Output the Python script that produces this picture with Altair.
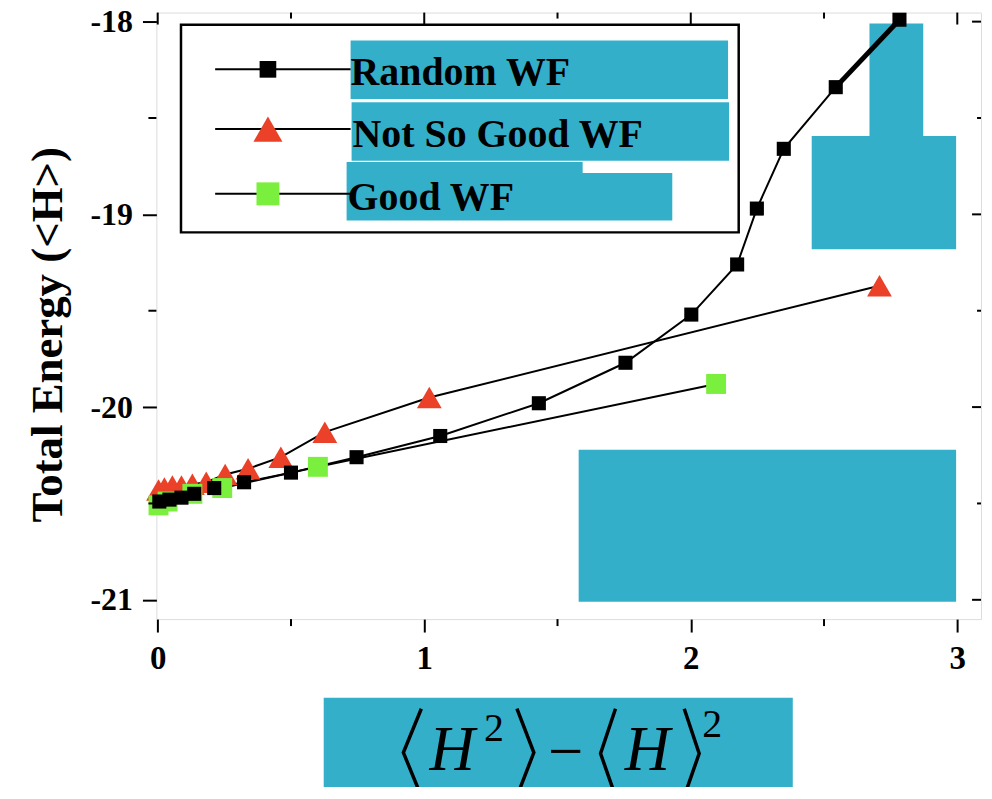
import altair as alt
import pandas as pd

# ---------------- data ----------------
series_names = ["Random WF", "Not So Good WF", "Good WF"]

random_x = [2.783, 2.544, 2.349, 2.248, 2.174, 2.002, 1.755, 1.430, 1.060, 0.746,
            0.500, 0.324, 0.212, 0.137, 0.089, 0.044, 0.006]
random_y = [-17.99, -18.34, -18.66, -18.97, -19.26, -19.52, -19.77, -19.98, -20.15, -20.26,
            -20.34, -20.39, -20.42, -20.45, -20.47, -20.48, -20.49]

notsogood_x = [2.708, 1.019, 0.627, 0.462, 0.339, 0.253, 0.182, 0.130, 0.089, 0.055, 0.025, 0.003]
notsogood_y = [-19.37, -19.95, -20.13, -20.26, -20.32, -20.35, -20.39, -20.40, -20.41, -20.41, -20.42, -20.43]

good_x = [2.095, 0.601, 0.242, 0.130, 0.037, 0.003]
good_y = [-19.88, -20.31, -20.42, -20.45, -20.49, -20.51]

x_ticks = [0, 1, 2, 3]
x_minor = [0.5, 1.5, 2.5]
y_ticks = [-18, -19, -20, -21]
y_minor = [-18.5, -19.5, -20.5]

y_title = "Total Energy (<H>)"

# ---------------- styling ----------------
W, H = 828, 609
TEAL = "#34AFCA"
RED = "#EB4128"
GREEN = "#7BEF3E"
SERIF = "Liberation Serif"

xs = alt.Scale(domain=[-0.005, 3.089], nice=False, zero=False)
ys = alt.Scale(domain=[-21.10, -17.953], nice=False, zero=False)

df = pd.concat([
    pd.DataFrame({"series": series_names[0], "x": random_x, "y": random_y}),
    pd.DataFrame({"series": series_names[1], "x": notsogood_x, "y": notsogood_y}),
    pd.DataFrame({"series": series_names[2], "x": good_x, "y": good_y}),
], ignore_index=True)

X = alt.X("x:Q", scale=xs, axis=None)
Y = alt.Y("y:Q", scale=ys, axis=None)
XV = alt.X("v:Q", scale=xs, axis=None)
YV = alt.Y("v:Q", scale=ys, axis=None)

# decorations (pixel positions relative to plot origin)
boxes = pd.DataFrame({
    "x0": [195, 196, 191, 191, 716, 658, 424, 168],
    "x1": [574, 575, 428, 518, 770, 803, 803, 639],
    "y0": [28, 90, 150, 161, 11, 124, 439, 688],
    "y1": [86.7, 148.7, 161, 208.7, 124, 237.7, 591.7, 800],
})
PX = lambda f: alt.X(f, scale=None, axis=None)
PY = lambda f: alt.Y(f, scale=None, axis=None)

box_layer = alt.Chart(boxes).mark_rect(color=TEAL, opacity=1).encode(
    x=PX("x0:Q"), x2="x1:Q", y=PY("y0:Q"), y2="y1:Q")

line_layer = alt.Chart(df).mark_line(color="black", strokeWidth=2).encode(
    x=alt.X("x:Q", scale=xs,
            axis=alt.Axis(values=x_ticks, title=None, domain=False, grid=False,
                          tickSize=13, tickWidth=2, tickColor="black",
                          labelFont=SERIF, labelFontWeight="bold", labelFontSize=33,
                          labelColor="black", labelPadding=11, labelFlush=False)),
    y=alt.Y("y:Q", scale=ys,
            axis=alt.Axis(values=y_ticks, title=y_title, domain=False, grid=False,
                          tickSize=14, tickWidth=2, tickColor="black",
                          labelExpr="'' + datum.value",
                          labelFont=SERIF, labelFontWeight="bold", labelFontSize=32,
                          labelColor="black", labelPadding=10, labelFlush=False,
                          titleFont=SERIF, titleFontWeight="bold", titleFontSize=45,
                          titleColor="black", titleAngle=270, titleX=-95, titleY=323,
                          titleAlign="center", titleBaseline="alphabetic")),
    detail="series:N",
)

thick_layer = alt.Chart(df).transform_filter(
    (alt.datum.series == series_names[0]) & (alt.datum.x >= 2.5)
).mark_line(color="black", strokeWidth=5).encode(x=X, y=Y)

red_pts = alt.Chart(df).transform_filter(alt.datum.series == series_names[1]).mark_point(
    shape="triangle-up", filled=True, color=RED, opacity=1, size=620).encode(x=X, y=Y)
green_pts = alt.Chart(df).transform_filter(alt.datum.series == series_names[2]).mark_point(
    shape="square", filled=True, color=GREEN, opacity=1, size=400).encode(x=X, y=Y)
black_pts = alt.Chart(df).transform_filter(alt.datum.series == series_names[0]).mark_point(
    shape="square", filled=True, color="black", opacity=1, size=200).encode(x=X, y=Y)

# inward ticks on top / right, minor outward ticks bottom / left
top_major = alt.Chart(pd.DataFrame({"v": x_ticks})).mark_rule(color="black", strokeWidth=2).encode(
    x=XV, y=alt.value(0), y2=alt.value(12))
top_minor = alt.Chart(pd.DataFrame({"v": x_minor})).mark_rule(color="black", strokeWidth=2).encode(
    x=XV, y=alt.value(0), y2=alt.value(6))
bot_minor = alt.Chart(pd.DataFrame({"v": x_minor})).mark_rule(color="black", strokeWidth=2).encode(
    x=XV, y=alt.value(H), y2=alt.value(H + 7))
right_major = alt.Chart(pd.DataFrame({"v": y_ticks})).mark_rule(color="black", strokeWidth=2).encode(
    y=YV, x=alt.value(W - 9), x2=alt.value(W))
right_minor = alt.Chart(pd.DataFrame({"v": y_minor})).mark_rule(color="black", strokeWidth=2).encode(
    y=YV, x=alt.value(W - 4), x2=alt.value(W))
left_minor = alt.Chart(pd.DataFrame({"v": y_minor})).mark_rule(color="black", strokeWidth=2).encode(
    y=YV, x=alt.value(-8), x2=alt.value(0))

# legend
legend_df = pd.DataFrame({
    "label": series_names,
    "ly": [57, 117, 182],
    "lx0": [59, 59, 59],
    "lx1": [195, 195, 195],
    "mx": [112, 112, 112],
    "shape": ["square", "triangle-up", "square"],
    "color": ["black", RED, GREEN],
    "size": [280, 850, 530],
    "tx": [195, 197, 192],
    "ty": [73, 135, 198],
})
legend_frame = alt.Chart(pd.DataFrame({"x0": [24.7], "x1": [584.7], "y0": [12.3], "y1": [220.7]})).mark_rect(
    fill=None, stroke="black", strokeWidth=2.5).encode(
    x=PX("x0:Q"), x2="x1:Q", y=PY("y0:Q"), y2="y1:Q")
legend_lines = alt.Chart(legend_df).mark_rule(color="black", strokeWidth=2).encode(
    x=PX("lx0:Q"), x2="lx1:Q", y=PY("ly:Q"))
legend_marks = alt.Chart(legend_df).mark_point(filled=True, opacity=1).encode(
    x=PX("mx:Q"), y=PY("ly:Q"),
    shape=alt.Shape("shape:N", scale=None),
    color=alt.Color("color:N", scale=None),
    size=alt.Size("size:Q", scale=None))
legend_text = alt.Chart(legend_df).mark_text(
    font=SERIF, fontWeight="bold", fontSize=40, align="left", baseline="alphabetic", color="black").encode(
    x=PX("tx:Q"), y=PY("ty:Q"), text="label:N")

# x-axis title  <H^2> - <H>^2  (angle brackets drawn as thin strokes)
brackets = pd.DataFrame({
    "b": [1, 1, 1, 2, 2, 2, 3, 3, 3, 4, 4, 4],
    "k": [0, 1, 2] * 4,
    "px": [266, 248, 266, 362, 379, 362, 461, 446, 461, 530, 545, 530],
    "py": [699, 743, 787, 699, 743, 787, 699, 744, 787, 699, 744, 787],
})
hs = pd.DataFrame({"t": ["H", "H"], "px": [297, 493], "py": [761, 761]})
sups = pd.DataFrame({"t": ["2", "2"], "px": [339, 558], "py": [731, 727]})
minus = pd.DataFrame({"t": ["−"], "px": [411], "py": [744]})

br_layer = alt.Chart(brackets).mark_line(color="black", strokeWidth=3.5, strokeJoin="miter").encode(
    x=PX("px:Q"), y=PY("py:Q"), detail="b:N", order="k:Q")
h_layer = alt.Chart(hs).mark_text(font=SERIF, fontStyle="italic", fontSize=63, align="center",
                                  baseline="alphabetic", color="black").encode(
    x=PX("px:Q"), y=PY("py:Q"), text="t:N")
sup_layer = alt.Chart(sups).mark_text(font=SERIF, fontSize=40, align="center",
                                      baseline="alphabetic", color="black").encode(
    x=PX("px:Q"), y=PY("py:Q"), text="t:N")
minus_layer = alt.Chart(minus).mark_text(font=SERIF, fontSize=63, align="center",
                                         baseline="middle", color="black").encode(
    x=PX("px:Q"), y=PY("py:Q"), text="t:N")

chart = alt.layer(
    box_layer, line_layer, thick_layer, red_pts, green_pts, black_pts,
    top_major, top_minor, bot_minor, right_major, right_minor, left_minor,
    legend_frame, legend_lines, legend_marks, legend_text,
    br_layer, h_layer, sup_layer, minus_layer,
).resolve_scale(x="independent", y="independent").properties(
    width=W, height=H,
    autosize=alt.AutoSizeParams(type="none"),
    padding={"left": 149, "top": 3, "right": 3, "bottom": 167},
).configure_view(stroke="black", strokeWidth=2.5).configure(background="white")

chart.save("out.html", embed_options={"renderer": "svg", "actions": False})
